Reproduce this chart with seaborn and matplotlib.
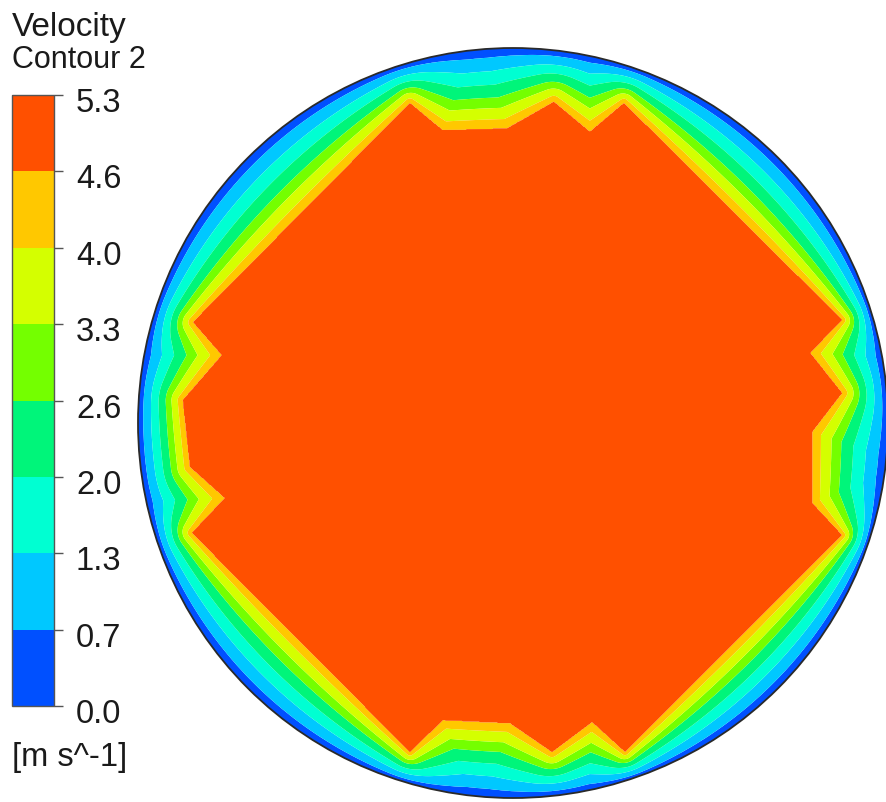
import numpy as np
import matplotlib
matplotlib.use("Agg")
import matplotlib.pyplot as plt
import matplotlib.transforms as mtransforms
from matplotlib.path import Path
from matplotlib.patches import Circle
from matplotlib.colors import ListedColormap, BoundaryNorm
import seaborn as sns

# ---------------- data ----------------
# contour levels of velocity [m s^-1]
levels = [0.0, 0.6625, 1.325, 1.9875, 2.65, 3.3125, 3.975, 4.6375, 5.3]
tick_labels = ["0.0", "0.7", "1.3", "2.0", "2.6", "3.3", "4.0", "4.6", "5.3"]
band_colors = ["#0050FF", "#00C8FF", "#00FFD2", "#00F57A",
               "#74FF00", "#D4FF00", "#FFC800", "#FF5000"]
# where each level sits across the wall-to-core gap (0 = wall, 1 = core edge)
level_position = [0.0, 0.11, 0.28, 0.45, 0.61, 0.74, 0.88, 1.0]
# outline of the high-velocity core (pipe radius = 1)
core_x = [-0.853, -0.776, -0.880, -0.861, -0.768, -0.856, -0.275, -0.187,
          -0.008, 0.104, 0.211, 0.299, 0.877, 0.797, 0.797, 0.877,
          0.792, 0.877, 0.296, 0.205, 0.109, -0.016, -0.187, -0.275]
core_y = [0.269, 0.181, 0.061, -0.117, -0.200, -0.293, -0.877, -0.792,
          -0.800, -0.877, -0.797, -0.877, -0.299, -0.213, -0.024, 0.080,
          0.187, 0.275, 0.853, 0.776, 0.856, 0.785, 0.780, 0.853]
core_velocity = 5.0

# ---------------- field between wall and core ----------------
n = 1000
g = np.linspace(-1.04, 1.04, n)
X, Y = np.meshgrid(g, g)
rho = np.hypot(X, Y)
d_wall = np.clip(1.0 - rho, 0.0, None)

vx = np.array(core_x)
vy = np.array(core_y)
bx_ = np.roll(vx, -1)
by_ = np.roll(vy, -1)
d_core = np.full(X.shape, np.inf)
for a1, a2, b1, b2 in zip(vx, vy, bx_, by_):
    dx, dy = b1 - a1, b2 - a2
    s = np.clip(((X - a1) * dx + (Y - a2) * dy) / (dx * dx + dy * dy), 0, 1)
    d = np.hypot(X - a1 - s * dx, Y - a2 - s * dy)
    d_core = np.minimum(d_core, d)

inside = Path(np.column_stack([vx, vy])).contains_points(
    np.column_stack([X.ravel(), Y.ravel()])).reshape(X.shape)
frac = d_wall / (d_wall + d_core + 1e-12)
V = np.interp(frac, level_position, levels[:len(level_position)])
V = np.where(inside, core_velocity, V)
V = np.clip(V, 0.001, None)

# ---------------- figure ----------------
sns.set_theme(style="white")
plt.rcParams["font.family"] = ["Liberation Sans", "DejaVu Sans"]

W, H = 887, 802
fig = plt.figure(figsize=(W / 100, H / 100), dpi=100)
fig.patch.set_facecolor("white")

def rect(x0, y0, x1, y1):
    return [x0 / W, 1 - y1 / H, (x1 - x0) / W, (y1 - y0) / H]

ax = fig.add_axes(rect(130, 40, 887, 802))
ax.set_xlim((130 - 513) / 375, (887 - 513) / 375)
ax.set_ylim((423 - 802) / 375, (423 - 40) / 375)
ax.set_axis_off()

cmap = ListedColormap(sns.color_palette(band_colors))
norm = BoundaryNorm(levels, cmap.N)
cf = ax.contourf(X, Y, V, levels=levels, cmap=cmap, norm=norm, antialiased=True)
clip = Circle((0, 0), 1.0, transform=ax.transData, facecolor="none")
cf.set_clip_path(clip)
ax.add_patch(Circle((0, 0), 1.0, facecolor="none", edgecolor="#2a2a2a",
                    lw=1.3, zorder=5, clip_on=False))

# colour bar
cax = fig.add_axes(rect(12, 95, 54, 706))
cb = fig.colorbar(cf, cax=cax, ticks=levels)
cb.outline.set_edgecolor("#555555")
cb.outline.set_linewidth(1.0)
cax.yaxis.set_ticks_position("right")
cax.tick_params(axis="y", direction="out", length=6.5, width=1.0,
                color="#555555", labelright=False, labelleft=False)
cax.set_ylim(levels[0], levels[-1])

trans = mtransforms.blended_transform_factory(fig.transFigure, cax.transData)
trans = mtransforms.offset_copy(trans, fig=fig, x=0, y=7, units="dots")
for v, lab in zip(levels, tick_labels):
    fig.text(76 / W, v, lab, transform=trans, va="top", ha="left",
             fontsize=23.5, color="#1a1a1a")

fig.text(12 / W, 1 - 36 / H, "Velocity", va="baseline", ha="left",
         fontsize=24, color="#1a1a1a")
fig.text(12 / W, 1 - 68 / H, "Contour 2", va="baseline", ha="left",
         fontsize=22, color="#1a1a1a")
fig.text(12 / W, 1 - 766 / H, "[m s^-1]", va="baseline", ha="left",
         fontsize=23.5, color="#1a1a1a")

fig.savefig("out.png", dpi=100, facecolor="white")
